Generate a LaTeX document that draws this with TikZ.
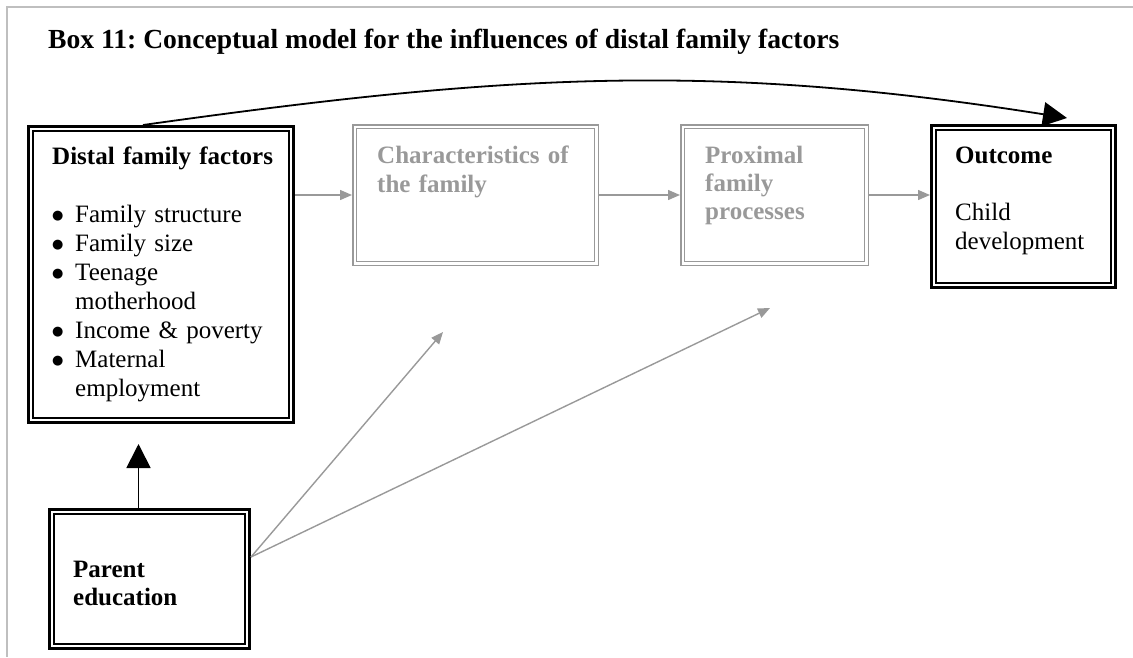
\documentclass[tikz,border=0pt]{standalone}
\usepackage{fontspec}
\setmainfont{Liberation Serif}
\newfontfamily\dotfont{DejaVu Sans}
\usepackage{tikz}
\usetikzlibrary{positioning}
\usetikzlibrary{arrows.meta}
\frenchspacing

\colorlet{fadegray}{black!40}
\colorlet{framegray}{black!25}

\tikzset{
  thickbox/.style={draw=black, line width=2.6pt, inner sep=0pt, outer sep=1.3pt,
    path picture={\draw[line width=1.3pt]
      ([shift={(4.6pt,4.6pt)}]path picture bounding box.south west) rectangle
      ([shift={(-4.6pt,-4.6pt)}]path picture bounding box.north east);}},
  fadebox/.style={draw=fadegray, line width=1.5pt, double=white, double distance=2.4pt,
    inner sep=0pt, outer sep=2.7pt},
  boxtext/.style={anchor=base west, inner sep=0pt, align=left,
    font=\fontsize{25}{29}\selectfont},
  fadearrow/.style={draw=fadegray, line width=1.4pt, -{Triangle[length=12pt,width=10pt]}},
  bigarrow/.style={draw=black, line width=1.8pt, -{Triangle[length=24pt,width=24pt]}}
}

\newcommand{\famitem}[1]{\makebox[23pt][l]{\raisebox{2.5pt}{\dotfont\fontsize{13}{13}\selectfont ●}}#1}
\newcommand{\famcont}[1]{\hspace*{23pt}#1}

\begin{document}
\begin{tikzpicture}[x=1pt, y=-1pt]
\useasboundingbox (0,0) rectangle (1133,657);
%%% frame and heading %%%
\draw[framegray, line width=1.3pt] (1133,7) -- (7,7) -- (7,657);
\node[anchor=base west, inner sep=0pt, font=\fontsize{27.6}{32}\selectfont\bfseries] (title) at (48,48)
  {Box 11: Conceptual model for the influences of distal family factors};

%%% boxes %%%
\node[thickbox, minimum width=265.4pt, minimum height=296.4pt] (distal) at (161,274.5) {};
\node[fadebox, minimum width=241.6pt, minimum height=136.6pt, anchor=north west]
  (char) at ([xshift=57pt,yshift=1pt]distal.north east) {};
\node[fadebox, minimum width=183.6pt, minimum height=136.6pt, right=81pt of char] (prox) {};
\node[thickbox, minimum width=184.4pt, minimum height=162.4pt, anchor=north west]
  (outcome) at ([xshift=61pt]prox.north east) {};
\node[thickbox, minimum width=200.4pt, minimum height=139.4pt, anchor=north west]
  (parent) at ([xshift=21pt,yshift=-84pt]distal.south west) {};

%%% texts %%%
\node[boxtext, text width=240pt] (distaltext) at ([xshift=25pt,yshift=-39pt]distal.north west)
  {\textbf{Distal family factors}\\[29pt]
   \famitem{Family structure}\\
   \famitem{Family size}\\
   \famitem{Teenage}\\
   \famcont{motherhood}\\
   \famitem{Income \& poverty}\\
   \famitem{Maternal}\\
   \famcont{employment}};
\node[boxtext, text width=215pt, text=fadegray, font=\fontsize{25}{29}\selectfont\bfseries]
  (chartext) at ([xshift=25pt,yshift=-39pt]char.north west)
  {Characteristics of\\ the family};
\node[boxtext, text width=160pt, text=fadegray, font=\fontsize{25}{28}\selectfont\bfseries]
  (proxtext) at ([xshift=25pt,yshift=-39pt]prox.north west)
  {Proximal\\ family\\ processes};
\node[boxtext, text width=160pt] (outcometext) at ([xshift=25pt,yshift=-39pt]outcome.north west)
  {\textbf{Outcome}\\[28pt] Child\\ development};
\node[boxtext, text width=175pt, font=\fontsize{25}{28}\selectfont\bfseries]
  (parenttext) at ([xshift=25pt,yshift=-69pt]parent.north west)
  {Parent\\ education};

%%% connectors %%%
\coordinate (charfoot) at ([xshift=-32.5pt,yshift=-66pt]char.south);
\coordinate (proxfoot) at ([xshift=-4.5pt,yshift=-42pt]prox.south);

\draw[fadearrow] (distal.east |- char.west) -- (char.west);
\draw[fadearrow] (char.east) -- (prox.west);
\draw[fadearrow] (prox.east) -- (prox.east -| outcome.west);
\draw[fadearrow] ([yshift=22pt]parent.east) -- (charfoot);
\draw[fadearrow] ([yshift=22pt]parent.east) -- (proxfoot);

\draw[bigarrow] ([xshift=-18pt]distal.north) to[out=8, in=171] ([xshift=43.5pt,yshift=6pt]outcome.north);
\draw[bigarrow] ([xshift=-11pt]parent.north) -- ([xshift=-11pt,yshift=-20pt]parent.north |- distal.south);

\end{tikzpicture}
\end{document}
